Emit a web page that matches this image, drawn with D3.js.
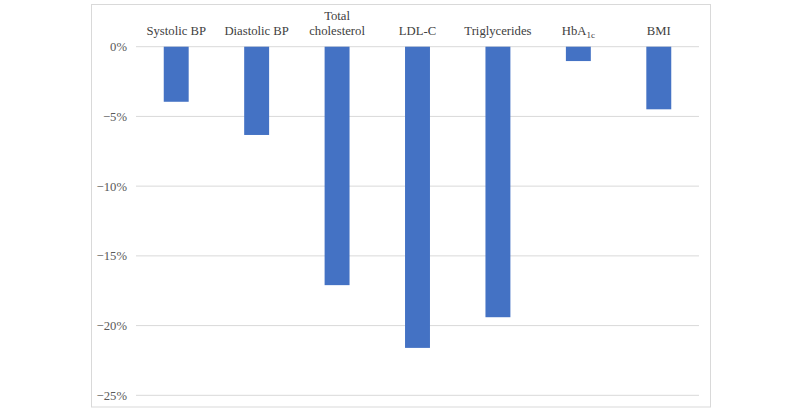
<!DOCTYPE html>
<html>
<head>
<meta charset="utf-8">
<script src="https://cdn.jsdelivr.net/npm/d3@7"></script>
<style>
  body { margin: 0; background: #fff; }
  svg { display: block; }
</style>
</head>
<body>
<figure id="bars" style="margin:0"></figure>
<script>
const categories = ["Systolic BP", "Diastolic BP", "Total cholesterol", "LDL-C", "Triglycerides", "HbA1c", "BMI"];
// label lines, "_" marks a subscript part
const labelLines = [["Systolic BP"], ["Diastolic BP"], ["Total", "cholesterol"], ["LDL-C"], ["Triglycerides"], ["HbA_1c"], ["BMI"]];
const values = [-3.95, -6.33, -17.1, -21.6, -19.4, -1.03, -4.49];
const yTicks = [0, -5, -10, -15, -20, -25];

const width = 800, height = 413;
const font = "'Liberation Serif', 'Times New Roman', serif";

const svg = d3.select("figure#bars")
  .append("svg")
  .attr("width", width)
  .attr("height", height);

// chart border
svg.append("rect")
  .attr("x", 91.5).attr("y", 4.5)
  .attr("width", 619).attr("height", 402.5)
  .attr("fill", "none")
  .attr("stroke", "#d9d9d9");

const x = d3.scaleBand()
  .domain(categories)
  .range([136, 699])
  .paddingInner(0.69)
  .paddingOuter(0.345);

const y = d3.scaleLinear()
  .domain([-25, 0])
  .range([395.3, 46.7]);

// gridlines
svg.append("g")
  .selectAll("line")
  .data(yTicks)
  .enter()
  .append("line")
  .attr("x1", 136).attr("x2", 699)
  .attr("y1", d => y(d)).attr("y2", d => y(d))
  .attr("stroke", "#d9d9d9")
  .attr("stroke-width", 1);

// y axis labels
const yAxis = svg.append("g")
  .attr("transform", "translate(136,0)")
  .call(d3.axisLeft(y).tickValues(yTicks).tickSize(0).tickPadding(9)
    .tickFormat(d => d === 0 ? "0%" : "\u2212" + Math.abs(d) + "%"));
yAxis.select(".domain").remove();
yAxis.selectAll("text")
  .attr("font-family", font)
  .attr("font-size", "12.7px")
  .attr("fill", "#595959");

// bars
svg.append("g")
  .selectAll("rect")
  .data(values)
  .enter()
  .append("rect")
  .attr("x", (d, i) => x(categories[i]))
  .attr("y", d => y(0))
  .attr("width", x.bandwidth())
  .attr("height", d => y(d) - y(0))
  .attr("fill", "#4472c4");

// category labels above the zero line
const labels = svg.append("g")
  .selectAll("text")
  .data(labelLines)
  .enter()
  .append("text")
  .attr("text-anchor", "middle")
  .attr("font-family", font)
  .attr("font-size", "12.7px")
  .attr("fill", "#404040")
  .attr("transform", (d, i) => "translate(" + (x(categories[i]) + x.bandwidth() / 2) + "," + (35 - (d.length - 1) * 15) + ")");

labels.each(function (lines) {
  const t = d3.select(this);
  lines.forEach((line, j) => {
    const parts = line.split("_");
    t.append("tspan").attr("x", 0).attr("dy", j === 0 ? 0 : 15).text(parts[0]);
    if (parts[1]) {
      t.append("tspan")
        .attr("font-size", "9px")
        .attr("dy", 3)
        .text(parts[1]);
    }
  });
});
</script>
</body>
</html>
